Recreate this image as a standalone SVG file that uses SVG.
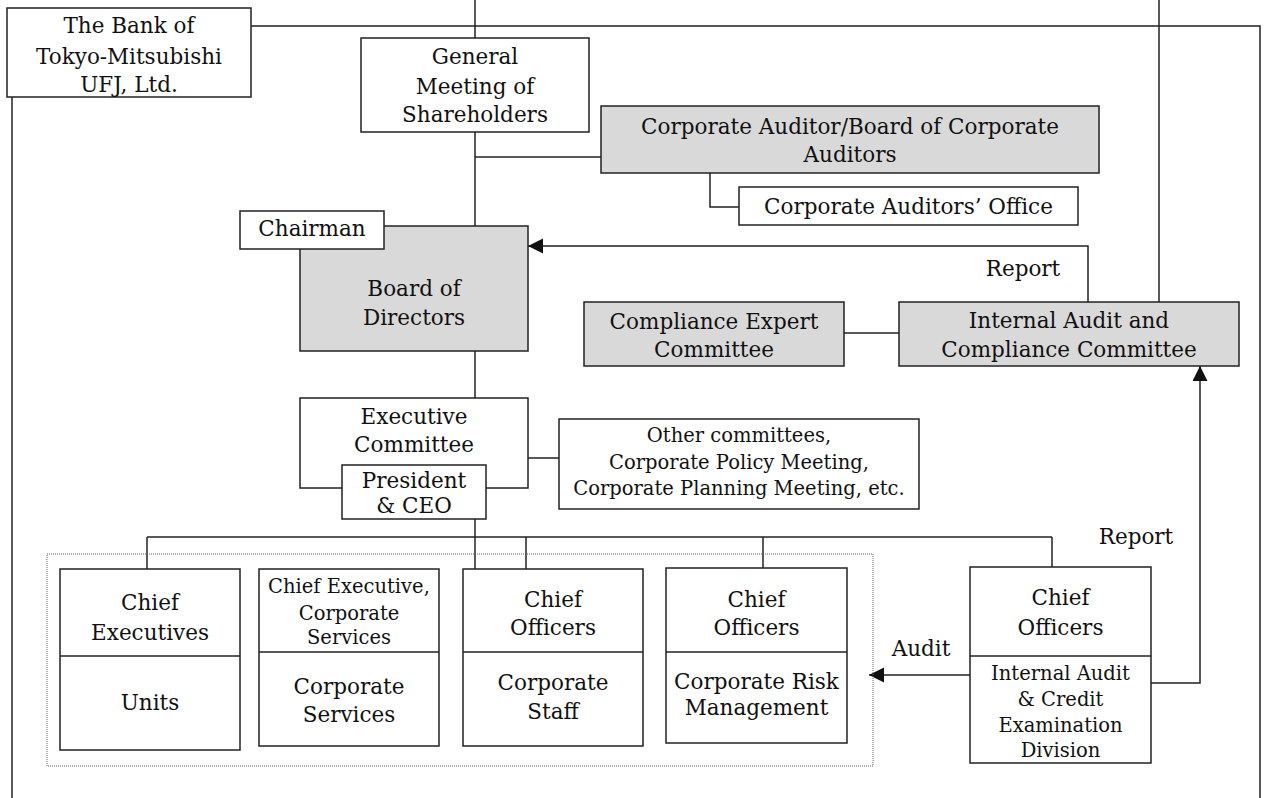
<svg xmlns="http://www.w3.org/2000/svg" width="1267" height="798" viewBox="0 0 1267 798">
  <style>
    .box { fill: #ffffff; stroke: #222; stroke-width: 1.5; }
    .grey { fill: #d9d9d9; stroke: #222; stroke-width: 1.5; }
    .div { stroke: #222; stroke-width: 1.5; fill: none; }
    .ln { stroke: #222; stroke-width: 1.5; fill: none; }
    .dot { fill: none; stroke: #666; stroke-width: 1; stroke-dasharray: 1 1; }
    text { font-family: "DejaVu Serif", "Liberation Serif", serif; fill: #111; text-anchor: middle; }
    .t { font-size: 21.5px; }
    .s { font-size: 19.5px; }
  </style>
  <defs>
    <marker id="arrow" markerUnits="userSpaceOnUse" markerWidth="16" markerHeight="16" refX="15" refY="7.5" orient="auto">
      <path d="M0,0 L15,7.5 L0,15 z" fill="#111"/>
    </marker>
  </defs>
  <rect width="1267" height="798" fill="#ffffff"/>

  <!-- connectors -->
  <g id="connectors">
    <path class="ln" d="M251,26 H1260 V798"/>
    <path class="ln" d="M12,97 V798"/>
    <path class="ln" d="M475,0 V38"/>
    <path class="ln" d="M1159,0 V302"/>
    <path class="ln" d="M475,132 V226"/>
    <path class="ln" d="M475,157 H601"/>
    <path class="ln" d="M710,173 V207 H739"/>
    <path class="ln" d="M1088,302 V246 H528" marker-end="url(#arrow)"/>
    <path class="ln" d="M844,333 H899"/>
    <path class="ln" d="M475,351 V398"/>
    <path class="ln" d="M528,458 H559"/>
    <path class="ln" d="M475,519 V569"/>
    <path class="ln" d="M147,537 H1052"/>
    <path class="ln" d="M147,537 V569"/>
    <path class="ln" d="M526,537 V569"/>
    <path class="ln" d="M763,537 V568"/>
    <path class="ln" d="M1052,537 V567"/>
    <path class="ln" d="M970,675 H869" marker-end="url(#arrow)"/>
    <path class="ln" d="M1151,683 H1200 V366" marker-end="url(#arrow)"/>
    <rect class="dot" x="47" y="554" width="826" height="212"/>
    <text class="t" x="1023" y="276">Report</text>
    <text class="t" x="1136" y="544">Report</text>
    <text class="t" x="921" y="656">Audit</text>
  </g>

  <g id="bank">
    <rect class="box" x="7" y="8" width="244" height="89"/>
    <text class="t" x="129" y="33">The Bank of</text>
    <text class="t" x="129" y="64">Tokyo-Mitsubishi</text>
    <text class="t" x="129" y="92">UFJ, Ltd.</text>
  </g>

  <g id="shareholders">
    <rect class="box" x="361" y="38" width="228" height="94"/>
    <text class="t" x="475" y="64">General</text>
    <text class="t" x="475" y="94">Meeting of</text>
    <text class="t" x="475" y="122">Shareholders</text>
  </g>

  <g id="auditors">
    <rect class="grey" x="601" y="106" width="498" height="67"/>
    <text class="t" x="850" y="134">Corporate Auditor/Board of Corporate</text>
    <text class="t" x="850" y="162">Auditors</text>
  </g>

  <g id="auditors-office">
    <rect class="box" x="739" y="187" width="339" height="38"/>
    <text class="t" x="908.5" y="214">Corporate Auditors’ Office</text>
  </g>

  <g id="board">
    <rect class="grey" x="300" y="226" width="228" height="125"/>
    <text class="t" x="414" y="296">Board of</text>
    <text class="t" x="414" y="325">Directors</text>
  </g>

  <g id="chairman">
    <rect class="box" x="240" y="211" width="144" height="38"/>
    <text class="t" x="312" y="236">Chairman</text>
  </g>

  <g id="compliance-expert">
    <rect class="grey" x="584" y="302" width="260" height="64"/>
    <text class="t" x="714" y="329">Compliance Expert</text>
    <text class="t" x="714" y="357">Committee</text>
  </g>

  <g id="audit-compliance">
    <rect class="grey" x="899" y="302" width="340" height="64"/>
    <text class="t" x="1069" y="328">Internal Audit and</text>
    <text class="t" x="1069" y="357">Compliance Committee</text>
  </g>

  <g id="executive">
    <rect class="box" x="300" y="398" width="228" height="90"/>
    <text class="t" x="414" y="424">Executive</text>
    <text class="t" x="414" y="452">Committee</text>
  </g>

  <g id="president">
    <rect class="box" x="342" y="465" width="144" height="54"/>
    <text class="t" x="414" y="488">President</text>
    <text class="t" x="414" y="513">&amp; CEO</text>
  </g>

  <g id="other-committees">
    <rect class="box" x="559" y="419" width="360" height="90"/>
    <text class="s" x="739" y="441.5">Other committees,</text>
    <text class="s" x="739" y="468.5">Corporate Policy Meeting,</text>
    <text class="s" x="739" y="494.5">Corporate Planning Meeting, etc.</text>
  </g>

  <g id="units">
    <rect class="box" x="60" y="569" width="180" height="181"/>
    <line class="div" x1="60" y1="656" x2="240" y2="656"/>
    <text class="t" x="150" y="610">Chief</text>
    <text class="t" x="150" y="640">Executives</text>
    <text class="t" x="150" y="710">Units</text>
  </g>

  <g id="corporate-services">
    <rect class="box" x="259" y="569" width="180" height="177"/>
    <line class="div" x1="259" y1="652" x2="439" y2="652"/>
    <text class="s" x="349" y="592.5">Chief Executive,</text>
    <text class="s" x="349" y="619.5">Corporate</text>
    <text class="s" x="349" y="643.5">Services</text>
    <text class="t" x="349" y="694">Corporate</text>
    <text class="t" x="349" y="722">Services</text>
  </g>

  <g id="corporate-staff">
    <rect class="box" x="463" y="569" width="180" height="177"/>
    <line class="div" x1="463" y1="652" x2="643" y2="652"/>
    <text class="t" x="553" y="607">Chief</text>
    <text class="t" x="553" y="635">Officers</text>
    <text class="t" x="553" y="690">Corporate</text>
    <text class="t" x="553" y="719">Staff</text>
  </g>

  <g id="risk-management">
    <rect class="box" x="666" y="568" width="181" height="175"/>
    <line class="div" x1="666" y1="652" x2="847" y2="652"/>
    <text class="t" x="756.5" y="607">Chief</text>
    <text class="t" x="756.5" y="635">Officers</text>
    <text class="t" x="756.5" y="689">Corporate Risk</text>
    <text class="t" x="756.5" y="715">Management</text>
  </g>

  <g id="internal-audit">
    <rect class="box" x="970" y="567" width="181" height="196"/>
    <line class="div" x1="970" y1="656" x2="1151" y2="656"/>
    <text class="t" x="1060.5" y="605">Chief</text>
    <text class="t" x="1060.5" y="635">Officers</text>
    <text class="s" x="1060.5" y="679.5">Internal Audit</text>
    <text class="s" x="1060.5" y="705.5">&amp; Credit</text>
    <text class="s" x="1060.5" y="731.5">Examination</text>
    <text class="s" x="1060.5" y="756.5">Division</text>
  </g>
</svg>
